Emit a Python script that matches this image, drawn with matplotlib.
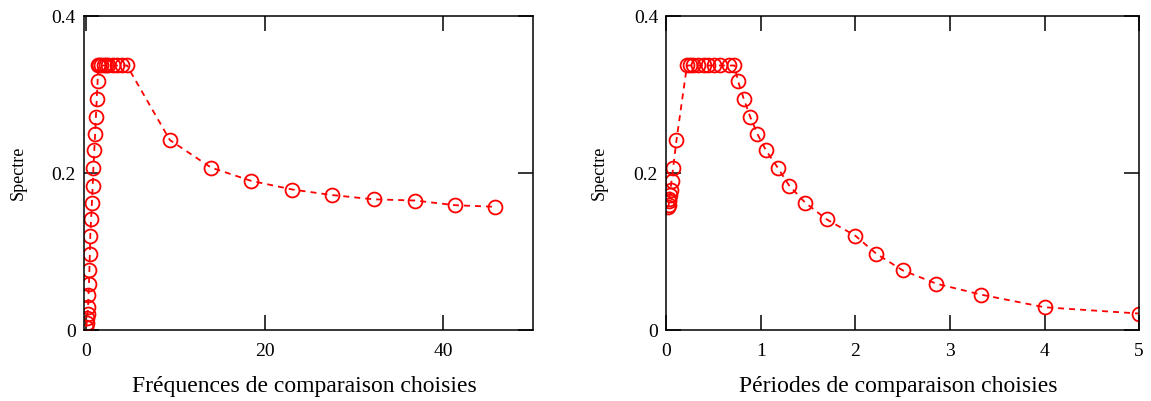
import matplotlib
matplotlib.use('Agg')
import matplotlib.pyplot as plt
import numpy as np

# spectrum sampled at the chosen comparison frequencies
freq = np.array([0.05, 0.10, 0.15, 0.20, 0.25, 0.30, 0.35, 0.40, 0.45, 0.50,
                 0.59, 0.68, 0.77, 0.85, 0.95, 1.04, 1.13, 1.22, 1.32, 1.39,
                 1.5, 1.75, 2.0, 2.25, 2.5, 3.0, 3.5, 4.0, 4.6,
                 9.4, 14.0, 18.5, 23.1, 27.5, 32.2, 36.8, 41.3, 45.8])
spectre = np.array([0.004, 0.009, 0.015, 0.021, 0.029, 0.045, 0.059, 0.076, 0.097, 0.120,
                    0.141, 0.162, 0.184, 0.207, 0.229, 0.250, 0.272, 0.294, 0.317, 0.337,
                    0.337, 0.337, 0.337, 0.337, 0.337, 0.337, 0.337, 0.337, 0.337,
                    0.242, 0.207, 0.190, 0.179, 0.172, 0.1665, 0.165, 0.159, 0.157])
period = 1.0 / freq

ytick_vals = [0, 0.2, 0.4]
ytick_txt = ['0', '0.2', '0.4']

plt.rcParams['font.family'] = 'Liberation Serif'

fig = plt.figure(figsize=(11.51, 4.01), dpi=100)
ax1 = fig.add_axes([0.073, 0.177, 0.390, 0.783])
ax2 = fig.add_axes([0.579, 0.177, 0.4106, 0.783])

style = dict(color='red', lw=1.3, dashes=(3.3, 2.8), marker='o', ms=10,
             mfc='none', mec='red', mew=1.3)

ax1.plot(freq, spectre, **style)
ax1.set_xlim(-0.2, 50)
ax1.set_xticks([0, 20, 40])
ax1.set_xlabel('Fréquences de comparaison choisies', fontsize=17)
ax1.yaxis.set_label_coords(-0.128, 0.5)

ax2.plot(period, spectre, **style)
ax2.set_xlim(0, 5)
ax2.set_xticks([0, 1, 2, 3, 4, 5])
ax2.set_xlabel('Périodes de comparaison choisies', fontsize=17)
ax2.yaxis.set_label_coords(-0.124, 0.5)

for ax in (ax1, ax2):
    ax.set_ylim(0, 0.4)
    ax.set_yticks(ytick_vals)
    ax.set_yticklabels(ytick_txt)
    ax.set_ylabel('Spectre', fontsize=13)
    ax.xaxis.set_label_coords(0.49, -0.145)
    ax.tick_params(direction='in', length=11, width=1.1, labelsize=14,
                   top=True, right=True, pad=6)
    ax.tick_params(axis='x', pad=9)
    for sp in ax.spines.values():
        sp.set_linewidth(1.1)

fig.savefig('out.png', dpi=100)
